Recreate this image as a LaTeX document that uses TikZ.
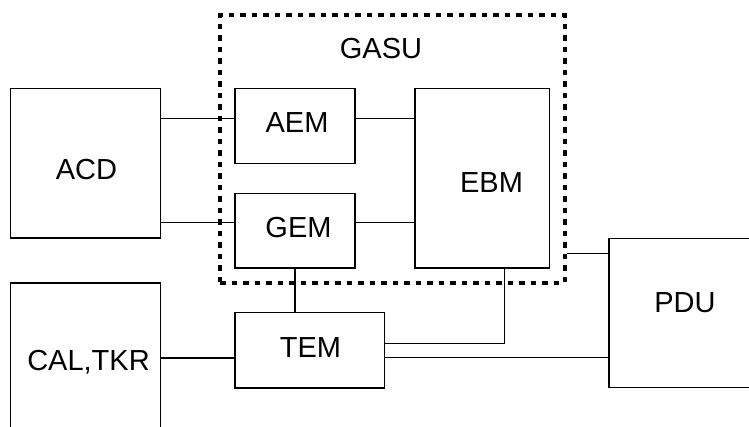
\documentclass[tikz,border=0pt]{standalone}
\usepackage{fontspec}
\setmainfont{Liberation Sans}
\begin{document}
\begin{tikzpicture}[x=1pt,y=-1pt,
  box/.style={draw,line width=1.3pt,rectangle,inner sep=0pt},
  lbl/.style={inner sep=0pt,font=\fontsize{29}{34}\selectfont},
  wire/.style={line width=1.3pt},
  group/.style={draw,line width=4pt,dash pattern=on 5.5pt off 6pt,inner sep=0pt}]
\useasboundingbox (0,0) rectangle (749,427);
% boxes (defined by corners)
\node[box,fit/.style={},minimum width=150pt,minimum height=149.5pt] (ACD) at (85.5,163.25) {};
\node[box,minimum width=120pt,minimum height=74.6pt] (AEM) at (295,126) {};
\node[box,minimum width=120pt,minimum height=74.7pt] (GEM) at (295,230.65) {};
\node[box,minimum width=134.5pt,minimum height=179.3pt] (EBM) at (482.25,178.35) {};
\node[box,minimum width=151pt,minimum height=149.4pt] (PDU) at (684.5,313) {};
\node[box,minimum width=150pt,minimum height=160pt] (CAL) at (85.5,363) {};
\node[box,minimum width=149.5pt,minimum height=75.3pt] (TEM) at (309.75,350.35) {};
\node[group,minimum width=344.5pt,minimum height=268pt] (GASU) at (392.25,149) {};
% labels
\node[lbl] (tGASU) at (381,49) {GASU};
\node[lbl] (tACD) at (86.5,170) {ACD};
\node[lbl] (tAEM) at (297,123) {AEM};
\node[lbl] (tGEM) at (298.5,228) {GEM};
\node[lbl] (tEBM) at (491.5,183) {EBM};
\node[lbl] (tPDU) at (685,302.5) {PDU};
\node[lbl] (tCAL) at (88.5,362.7) {CAL,TKR};
\node[lbl] (tTEM) at (310.5,348) {TEM};
% connectors
\draw[wire] (ACD.east |- 0,118.3) -- (AEM.west |- 0,118.3);
\draw[wire] (AEM.east |- 0,118.3) -- (EBM.west |- 0,118.3);
\draw[wire] (ACD.east |- 0,222.7) -- (GEM.west |- 0,222.7);
\draw[wire] (GEM.east |- 0,222.7) -- (EBM.west |- 0,222.7);
\draw[wire] (GEM.south) -- (TEM.north -| GEM.south);
\draw[wire] (EBM.south -| 504.5,0) |- (TEM.east |- 0,343.3);
\draw[wire] (CAL.east |- 0,358) -- (TEM.west |- 0,358);
\draw[wire] (TEM.east |- 0,357.5) -- (PDU.west |- 0,357.5);
\draw[wire] (GASU.east |- 0,253.3) -- (PDU.west |- 0,253.3);
\end{tikzpicture}
\end{document}
